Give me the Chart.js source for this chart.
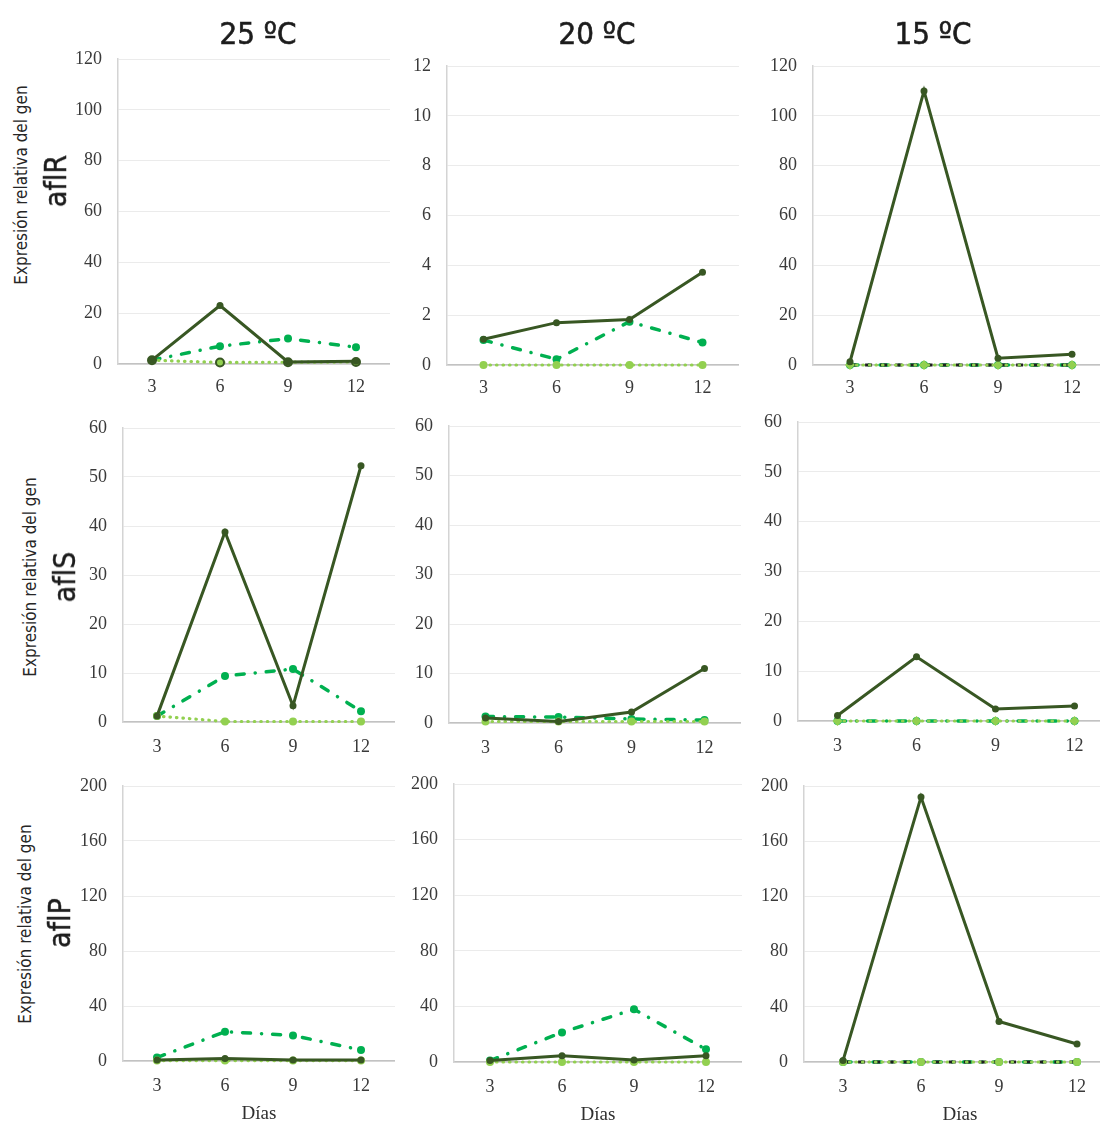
<!DOCTYPE html>
<html lang="es">
<head>
<meta charset="utf-8">
<title>Expresión relativa de genes afl</title>
<script src="https://cdn.jsdelivr.net/npm/chart.js@4.4.1/dist/chart.umd.min.js"></script>
<style>
  html, body { margin: 0; padding: 0; width: 1100px; height: 1122px; overflow: hidden; background: #ffffff; }
  #lamina { position: relative; width: 1100px; height: 1122px; overflow: hidden; }
  #lamina canvas { position: absolute; }
  .temp, .eje {
    position: absolute;
    font-family: "Liberation Sans Narrow", "DejaVu Sans Condensed", "DejaVu Sans", sans-serif;
    line-height: 1;
    white-space: nowrap;
    color: #1c1c1c;
  }
  .temp { font-size: 31px; transform: translate(-50%, -50%); -webkit-text-stroke: 0.6px #1c1c1c; }
  .eje { transform: translate(-50%, -50%) rotate(-90deg); }
  .eje.texto { font-size: 17px; color: #262626; }
  .eje.gen { font-size: 30px; -webkit-text-stroke: 0.4px #1c1c1c; }
</style>
</head>
<body>
<div id="lamina"></div>
<script>
// ---- Datos ----
const dias = ['3', '6', '9', '12'];
const temperaturas = ['25 ºC', '20 ºC', '15 ºC'];
const genes = ['aflR', 'aflS', 'aflP'];
const textoEje = 'Expresión relativa del gen';
const tituloX = 'Días';

// Escalas del eje Y (máximo y paso) por gen, columnas 25 / 20 / 15 ºC
const maxY_aflR = [120, 12, 120];
const pasoY_aflR = [20, 2, 20];
const maxY_aflS = [60, 60, 60];
const pasoY_aflS = [10, 10, 10];
const maxY_aflP = [200, 200, 200];
const pasoY_aflP = [40, 40, 40];

// aflR
const aflR25_solida = [1.5, 23, 0.8, 1.1];
const aflR25_trazo = [1.5, 7, 10, 6.6];
const aflR25_punteada = [1.5, 0.6, 0.7, 0.8];
const aflR20_solida = [1.03, 1.7, 1.83, 3.72];
const aflR20_trazo = [1.0, 0.23, 1.74, 0.9];
const aflR20_punteada = [0, 0, 0, 0];
const aflR15_solida = [1.3, 110, 2.7, 4.3];
const aflR15_trazo = [0, 0, 0, 0];
const aflR15_punteada = [0, 0, 0, 0];
const aflR15_negra = [0, 0, 0, 0];

// aflS
const aflS25_solida = [1.2, 38.8, 3.3, 52.3];
const aflS25_trazo = [1.2, 9.4, 10.8, 2.2];
const aflS25_punteada = [1.2, 0.1, 0.1, 0.1];
const aflS20_solida = [1.0, 0.3, 2.2, 11.0];
const aflS20_trazo = [1.3, 1.2, 0.8, 0.6];
const aflS20_punteada = [0.3, 0.3, 0.3, 0.3];
const aflS15_solida = [1.1, 12.9, 2.4, 3.0];
const aflS15_trazo = [0, 0, 0, 0];
const aflS15_punteada = [0, 0, 0, 0];

// aflP
const aflP25_solida = [0.8, 1.8, 0.8, 0.8];
const aflP25_trazo = [2.5, 21.3, 18.6, 8.0];
const aflP25_punteada = [0.3, 0.3, 0.3, 0.3];
const aflP20_solida = [1.0, 4.5, 1.5, 4.5];
const aflP20_trazo = [1.0, 21.3, 37.9, 9.1];
const aflP20_punteada = [0, 0, 0, 0];
const aflP15_solida = [1.0, 192, 29.3, 13.0];
const aflP15_trazo = [0, 0, 0, 0];
const aflP15_punteada = [0, 0, 0, 0];
const aflP15_negra = [0, 0, 0, 0];

// Tablas por fila (gen) y columna (temperatura)
const tablaSeries = [
  [
    [aflR25_solida, aflR25_trazo, aflR25_punteada, null],
    [aflR20_solida, aflR20_trazo, aflR20_punteada, null],
    [aflR15_solida, aflR15_trazo, aflR15_punteada, aflR15_negra]
  ],
  [
    [aflS25_solida, aflS25_trazo, aflS25_punteada, null],
    [aflS20_solida, aflS20_trazo, aflS20_punteada, null],
    [aflS15_solida, aflS15_trazo, aflS15_punteada, null]
  ],
  [
    [aflP25_solida, aflP25_trazo, aflP25_punteada, null],
    [aflP20_solida, aflP20_trazo, aflP20_punteada, null],
    [aflP15_solida, aflP15_trazo, aflP15_punteada, aflP15_negra]
  ]
];
const tablaMax = [maxY_aflR, maxY_aflS, maxY_aflP];
const tablaPaso = [pasoY_aflR, pasoY_aflS, pasoY_aflP];

// ---- Maquetación (área de trazado de cada panel: izq, sup, der, inf) ----
const marcos = [
  [[118, 59, 390, 364], [447, 66, 739, 365], [813, 66, 1109, 365]],
  [[123, 428, 395, 722], [449, 426, 741, 723], [798, 422, 1114, 721]],
  [[123, 786, 395, 1061], [454, 784, 742, 1062], [804, 786, 1116, 1062]]
];
const posTitulos = [[258, 33], [597, 33], [933, 33]];
const posEtiquetas = [
  { texto: [21, 185], gen: [55.5, 181] },
  { texto: [29.7, 577], gen: [64.5, 577] },
  { texto: [24.7, 924], gen: [60, 923] }
];
// Marcadores de la serie clara en cada panel
const marcadorClara = [
  ['anillo', 'circle', 'rectRot'],
  ['circle', 'circle', 'rectRot'],
  ['circle', 'circle', 'circle']
];

const VERDE_OSCURO = '#385723';
const VERDE_MEDIO = '#00B050';
const VERDE_CLARO = '#92D050';
const NEGRO = '#1f1f1f';
const fuenteTicks = { family: '"Liberation Serif", "Times New Roman", serif', size: 18 };
const colorTicks = '#3a3a3a';

const lamina = document.getElementById('lamina');

// Anula el relleno automático que las escalas piden para sus etiquetas extremas
function sinRelleno(s) {
  s.paddingTop = 0; s.paddingBottom = 0; s.paddingLeft = 0; s.paddingRight = 0;
}

function crearPanel(fila, col) {
  const [L, T, R, B] = marcos[fila][col];
  const anchoY = 60, margenSup = 16;
  const altoX = fila === 0 ? 40 : 42;
  const altoTotal = fila === 2 ? 64 : altoX;
  const canvas = document.createElement('canvas');
  const w = Math.round(R - L + anchoY);
  const h = Math.round(B - T + margenSup + altoTotal);
  canvas.width = w; canvas.height = h;
  canvas.style.width = w + 'px'; canvas.style.height = h + 'px';
  canvas.style.left = (L - anchoY) + 'px';
  canvas.style.top = (T - margenSup) + 'px';
  lamina.appendChild(canvas);

  const [solida, trazo, punteada, negra] = tablaSeries[fila][col];
  const marcador = marcadorClara[fila][col];
  const datasets = [
    {
      label: 'solida', data: solida, order: 0,
      borderColor: VERDE_OSCURO, backgroundColor: VERDE_OSCURO, borderWidth: 3,
      pointRadius: 3.5, pointBackgroundColor: VERDE_OSCURO, pointBorderWidth: 0
    },
    {
      label: 'punteada', data: punteada, order: 1,
      borderColor: VERDE_CLARO, backgroundColor: VERDE_CLARO, borderWidth: 3.2,
      borderDash: [0.5, 6], borderCapStyle: 'round',
      pointStyle: marcador === 'anillo' ? 'circle' : marcador,
      pointRadius: marcador === 'rectRot' ? 5 : 4,
      pointBackgroundColor: VERDE_CLARO,
      pointBorderColor: marcador === 'anillo' ? VERDE_OSCURO : VERDE_CLARO,
      pointBorderWidth: marcador === 'anillo' ? 2 : 0
    },
    {
      label: 'trazo', data: trazo, order: 3,
      borderColor: VERDE_MEDIO, backgroundColor: VERDE_MEDIO, borderWidth: 3.5,
      borderDash: [8, 11, 0.1, 11], borderCapStyle: 'round',
      pointRadius: 4, pointBackgroundColor: VERDE_MEDIO, pointBorderWidth: 0
    }
  ];
  if (negra) {
    datasets.push({
      label: 'negra', data: negra, order: 2,
      borderColor: NEGRO, borderWidth: 3, borderDash: [7, 4, 0.1, 4],
      borderCapStyle: 'butt', pointRadius: 0
    });
  }
  datasets.forEach(d => { d.tension = 0; d.clip = false; d.fill = false; });

  new Chart(canvas, {
    type: 'line',
    data: { labels: dias, datasets },
    options: {
      responsive: false,
      animation: false,
      events: [],
      layout: { autoPadding: false, padding: { left: 0, top: margenSup, right: 0, bottom: 0 } },
      plugins: { legend: { display: false }, tooltip: { enabled: false }, title: { display: false } },
      scales: {
        x: {
          type: 'category',
          offset: true,
          grid: { drawOnChartArea: false, drawTicks: false },
          border: { color: '#c2c2c2', width: 1.5 },
          ticks: { font: fuenteTicks, color: colorTicks, padding: fila === 0 ? 12 : 14, autoSkip: false, maxRotation: 0 },
          title: {
            display: fila === 2, text: tituloX, color: '#2f2f2f',
            font: { family: '"Liberation Serif", "Times New Roman", serif', size: 19 },
            padding: { top: 0, bottom: 0 }
          },
          afterFit: s => { s.height = altoTotal; sinRelleno(s); }
        },
        y: {
          min: 0,
          max: tablaMax[fila][col],
          grid: { color: '#ebebeb', lineWidth: 1, drawTicks: false },
          border: { color: '#d4d4d4', width: 1.5 },
          ticks: { stepSize: tablaPaso[fila][col], font: fuenteTicks, color: colorTicks, padding: 16 },
          afterFit: s => { s.width = anchoY; sinRelleno(s); }
        }
      }
    }
  });
}

for (let f = 0; f < genes.length; f++) {
  for (let c = 0; c < temperaturas.length; c++) crearPanel(f, c);
}

temperaturas.forEach((t, c) => {
  const d = document.createElement('div');
  d.className = 'temp';
  d.textContent = t;
  d.style.left = posTitulos[c][0] + 'px';
  d.style.top = posTitulos[c][1] + 'px';
  lamina.appendChild(d);
});

genes.forEach((g, f) => {
  const a = document.createElement('div');
  a.className = 'eje texto';
  a.textContent = textoEje;
  a.style.left = posEtiquetas[f].texto[0] + 'px';
  a.style.top = posEtiquetas[f].texto[1] + 'px';
  lamina.appendChild(a);
  const b = document.createElement('div');
  b.className = 'eje gen';
  b.textContent = g;
  b.style.left = posEtiquetas[f].gen[0] + 'px';
  b.style.top = posEtiquetas[f].gen[1] + 'px';
  lamina.appendChild(b);
});
</script>
</body>
</html>
